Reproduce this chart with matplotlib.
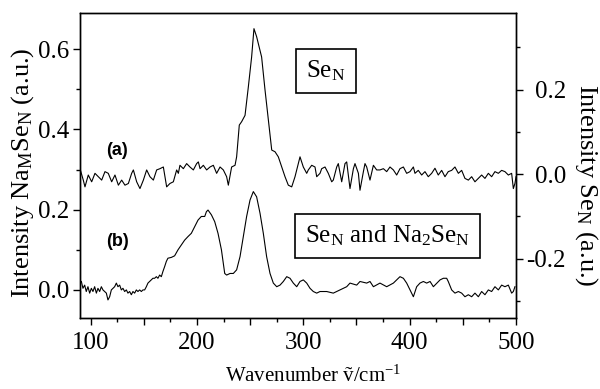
import matplotlib
matplotlib.use("Agg")
import matplotlib.pyplot as plt
from matplotlib.ticker import MultipleLocator, FuncFormatter

plt.rcParams["font.family"] = ["Liberation Serif", "DejaVu Serif"]
plt.rcParams["mathtext.fontset"] = "custom"
plt.rcParams["mathtext.rm"] = "Liberation Serif"
plt.rcParams["mathtext.it"] = "Liberation Serif:italic"

# spectrum (a): SeN, right axis
wn_a = [
    90.0, 93.1, 94.7, 97.8, 101.0, 104.1, 107.2, 110.4, 113.5, 116.6,
    119.8, 122.9, 126.1, 129.2, 132.3, 135.5, 138.6, 140.2, 143.3, 146.4,
    149.6, 152.7, 155.8, 159.0, 162.1, 165.2, 168.4, 171.5, 174.6, 177.8,
    180.9, 182.5, 184.0, 187.2, 190.3, 193.4, 196.6, 199.7, 201.3, 202.9,
    206.0, 209.1, 212.3, 215.4, 218.5, 221.7, 224.8, 227.9, 229.5, 232.6,
    235.8, 237.3, 239.8, 242.0, 245.2, 248.3, 251.4, 253.6, 256.1, 260.8,
    264.0, 267.1, 270.3, 273.4, 276.5, 279.7, 282.8, 285.9, 289.1, 292.2,
    295.3, 296.9, 300.0, 303.2, 304.7, 307.9, 311.0, 312.6, 315.7, 317.3,
    320.4, 323.5, 326.7, 328.2, 331.4, 332.9, 336.1, 339.2, 340.8, 343.9,
    347.1, 348.6, 351.8, 353.3, 356.5, 358.0, 359.6, 362.7, 365.9, 369.0,
    372.1, 375.3, 378.4, 381.5, 384.7, 387.8, 390.9, 394.1, 397.2, 400.3,
    403.5, 405.0, 408.1, 411.3, 414.4, 417.5, 420.7, 423.8, 426.9, 430.1,
    433.2, 436.3, 439.5, 442.6, 445.8, 448.9, 452.0, 455.2, 458.3, 461.4,
    464.6, 467.7, 470.8, 474.0, 477.1, 480.2, 483.4, 486.5, 489.6, 492.8,
    495.9, 497.5, 499.0, 500.0,
]
int_a = [
    0.013, -0.014, -0.030, -0.002, -0.018, 0.002, -0.006, -0.014, 0.006, 0.002,
    -0.018, -0.002, -0.026, -0.014, -0.026, -0.022, 0.002, 0.010, -0.018, -0.034,
    -0.014, 0.010, -0.006, -0.014, 0.010, 0.013, 0.017, -0.030, -0.022, -0.018,
    0.010, 0.002, 0.021, 0.013, 0.025, 0.017, 0.010, 0.025, 0.029, 0.013,
    0.021, 0.010, 0.017, 0.021, 0.002, 0.017, 0.010, -0.006, -0.026, 0.017,
    0.021, 0.041, 0.116, 0.124, 0.139, 0.206, 0.277, 0.344, 0.325, 0.277,
    0.199, 0.128, 0.057, 0.053, 0.041, 0.017, -0.006, -0.026, -0.030, -0.006,
    0.025, 0.041, 0.017, 0.002, 0.010, 0.021, 0.017, -0.006, 0.002, 0.013,
    0.017, 0.002, -0.018, -0.014, 0.017, 0.025, -0.018, 0.025, 0.029, -0.034,
    0.013, 0.025, 0.002, -0.038, 0.006, 0.025, 0.017, -0.014, 0.021, 0.010,
    0.010, 0.013, 0.006, 0.017, 0.010, -0.002, 0.013, 0.017, 0.002, 0.006,
    0.017, 0.002, 0.009, -0.002, 0.006, -0.006, 0.002, 0.014, -0.002, 0.009,
    -0.006, 0.006, 0.009, 0.017, 0.002, 0.009, -0.010, -0.014, -0.006, -0.018,
    -0.010, -0.002, -0.010, 0.002, -0.006, 0.006, 0.002, 0.009, 0.006, -0.002,
    0.002, -0.034, -0.022, -0.006,
]

# spectrum (b): SeN and Na2SeN, left axis
wn_b = [
    91.3, 92.8, 94.4, 95.9, 97.5, 99.1, 100.7, 102.2, 103.8, 105.4,
    106.9, 108.5, 110.1, 111.6, 113.2, 114.8, 116.3, 117.9, 119.5, 121.0,
    122.6, 124.2, 125.7, 127.3, 128.9, 130.4, 132.0, 133.6, 135.1, 136.7,
    138.3, 139.8, 141.4, 143.0, 144.5, 146.1, 147.7, 149.2, 150.8, 152.4,
    153.9, 155.5, 157.1, 158.6, 160.2, 161.8, 163.3, 164.9, 166.5, 168.0,
    169.6, 171.2, 172.7, 175.9, 179.0, 182.2, 185.3, 188.4, 191.6, 194.7,
    197.9, 201.0, 204.1, 207.3, 208.9, 210.4, 213.6, 216.7, 219.8, 223.0,
    226.1, 227.9, 231.1, 234.2, 237.3, 240.5, 243.6, 246.7, 249.9, 253.0,
    256.1, 259.3, 262.4, 265.5, 268.7, 271.8, 275.0, 278.1, 281.2, 284.4,
    287.5, 290.6, 293.8, 296.9, 300.0, 303.2, 306.3, 309.4, 312.6, 315.7,
    322.0, 328.2, 334.5, 340.8, 343.9, 350.2, 353.3, 359.6, 362.7, 365.9,
    372.1, 378.4, 384.7, 390.9, 394.1, 397.2, 400.3, 403.5, 406.6, 409.7,
    412.9, 416.0, 419.2, 422.3, 428.6, 431.7, 434.8, 436.3, 439.5, 442.6,
    445.8, 448.9, 452.0, 455.2, 458.3, 461.4, 464.6, 467.7, 470.8, 474.0,
    477.1, 480.2, 483.4, 486.5, 489.6, 492.8, 495.9, 497.5, 499.0,
]
int_b = [
    0.021, 0.004, 0.012, -0.004, 0.008, -0.008, 0.004, -0.004, 0.008, -0.008,
    0.004, -0.004, 0.008, 0.000, -0.004, -0.008, -0.025, -0.017, 0.000, 0.004,
    0.008, 0.017, 0.008, 0.012, 0.000, 0.004, -0.004, 0.000, -0.008, -0.004,
    -0.012, -0.004, -0.008, 0.000, -0.004, 0.000, -0.004, 0.000, 0.000, 0.008,
    0.017, 0.021, 0.025, 0.029, 0.029, 0.033, 0.029, 0.037, 0.033, 0.046,
    0.058, 0.071, 0.079, 0.081, 0.085, 0.100, 0.112, 0.124, 0.133, 0.141,
    0.158, 0.174, 0.183, 0.183, 0.195, 0.199, 0.187, 0.170, 0.141, 0.100,
    0.041, 0.037, 0.041, 0.041, 0.050, 0.083, 0.133, 0.183, 0.224, 0.245,
    0.232, 0.191, 0.141, 0.083, 0.041, 0.017, 0.008, 0.012, 0.021, 0.033,
    0.029, 0.017, 0.008, 0.021, 0.025, 0.017, 0.004, -0.004, -0.008, -0.004,
    -0.004, -0.008, 0.000, 0.008, 0.017, 0.012, 0.021, 0.017, 0.021, 0.008,
    0.017, 0.008, 0.017, 0.033, 0.029, 0.017, 0.000, -0.017, 0.008, 0.017,
    0.021, 0.017, 0.021, 0.008, 0.025, 0.029, 0.029, 0.021, 0.000, -0.008,
    -0.004, -0.008, -0.017, -0.012, -0.017, -0.008, -0.017, -0.004, -0.012, 0.000,
    -0.004, 0.008, 0.000, 0.012, 0.008, 0.012, -0.008, -0.004, 0.008,
]

fig = plt.figure(figsize=(6, 3.89), dpi=100)
ax = fig.add_axes([0.1333, 0.1825, 0.7267, 0.7841])
ax2 = ax.twinx()

ax.plot(wn_b, int_b, color="black", lw=0.8)
ax2.plot(wn_a, int_a, color="black", lw=0.8)

ax.set_xlim(90, 500)
ax.set_ylim(-0.07, 0.69)
ax2.set_ylim(-0.340, 0.381)

ax.xaxis.set_major_locator(MultipleLocator(50))
ax.xaxis.set_minor_locator(MultipleLocator(25))
ax.xaxis.set_major_formatter(
    FuncFormatter(lambda v, p: f"{v:.0f}" if round(v) % 100 == 0 else "")
)
ax.yaxis.set_major_locator(MultipleLocator(0.2))
ax.yaxis.set_minor_locator(MultipleLocator(0.1))
ax.yaxis.set_major_formatter(FuncFormatter(lambda v, p: f"{v:.1f}"))
ax2.yaxis.set_major_locator(MultipleLocator(0.2))
ax2.yaxis.set_minor_locator(MultipleLocator(0.1))
ax2.yaxis.set_major_formatter(FuncFormatter(lambda v, p: f"{v:.1f}".replace("-0.0", "0.0")))

for a in (ax, ax2):
    for s in a.spines.values():
        s.set_linewidth(1.0)
ax.tick_params(which="both", direction="out", labelsize=18, width=1.0)
ax.tick_params(which="major", length=5, pad=3)
ax.tick_params(which="minor", length=3)
ax.tick_params(axis="x", pad=5)
ax2.tick_params(which="both", direction="out", labelsize=18, width=1.0)
ax2.tick_params(which="major", length=5, pad=31)
ax2.tick_params(which="minor", length=3)
for lab in ax2.get_yticklabels():
    lab.set_horizontalalignment("right")

ax.set_xlabel("Wavenumber \u1E7D/cm$^{\\mathregular{-1}}$", fontsize=15)
ax.set_ylabel("Intensity Na$_\\mathregular{M}$Se$_\\mathregular{N}$ (a.u.)", fontsize=19)
ax2.set_ylabel("Intensity Se$_\\mathregular{N}$ (a.u.)", fontsize=19,
               rotation=270, va="bottom")
ax.yaxis.set_label_coords(-0.10, 0.475)
ax2.yaxis.set_label_coords(1.13, 0.436)
ax.xaxis.set_label_coords(0.534, -0.155)

box = dict(boxstyle="square,pad=0.4", fc="white", ec="black", lw=1.2)
ax.text(0.564, 0.81, "Se$_\\mathregular{N}$", transform=ax.transAxes,
        fontsize=18, ha="center", va="center", bbox=box)
ax.text(0.706, 0.269, "Se$_\\mathregular{N}$ and Na$_\\mathregular{2}$Se$_\\mathregular{N}$",
        transform=ax.transAxes, fontsize=18, ha="center", va="center", bbox=box)

ax.text(0.085, 0.549, "(a)", transform=ax.transAxes, fontsize=13,
        fontweight="bold", family="Liberation Sans", ha="center", va="center")
ax.text(0.085, 0.252, "(b)", transform=ax.transAxes, fontsize=13,
        fontweight="bold", family="Liberation Sans", ha="center", va="center")

fig.savefig("out.png", dpi=100)
